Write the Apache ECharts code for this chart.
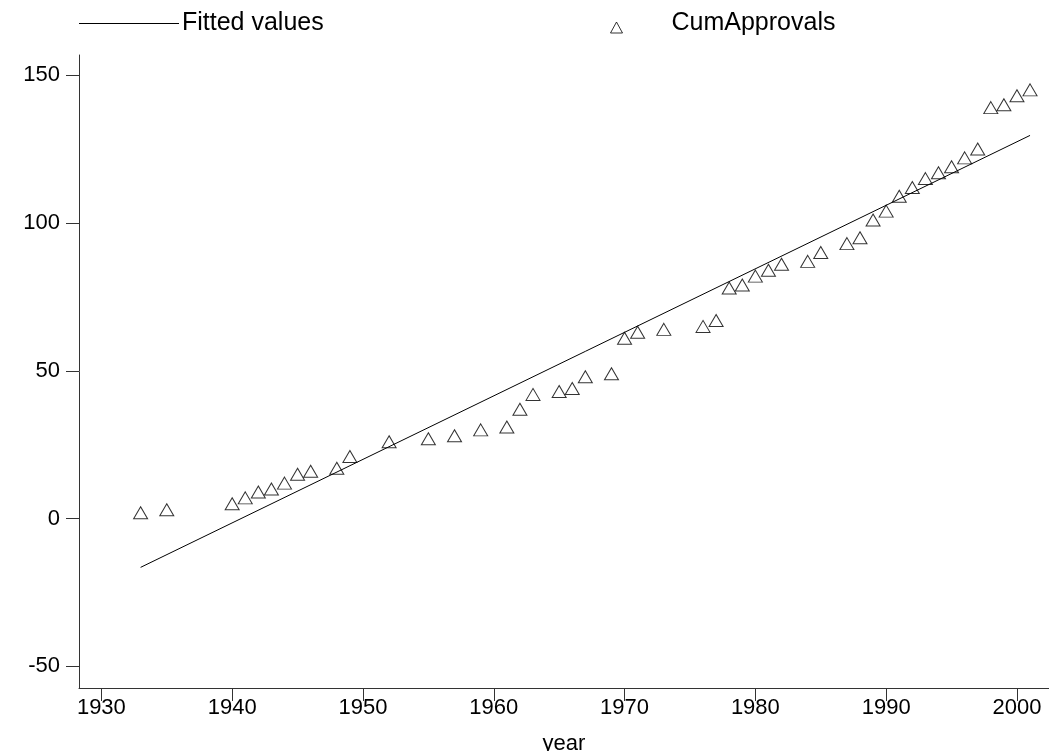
<!DOCTYPE html>
<html><head><meta charset="utf-8">
<script src="https://cdn.jsdelivr.net/npm/echarts@6/dist/echarts.min.js"></script>
<style>html,body{margin:0;padding:0;background:#fff}#c{width:1049px;height:751px}</style>
</head><body><div id="c"></div>
<script>
const years = [1933,1935,1940,1941,1942,1943,1944,1945,1946,1948,1949,1952,1955,1957,1959,1961,1962,1963,1965,1966,1967,1969,1970,1971,1973,1976,1977,1978,1979,1980,1981,1982,1984,1985,1987,1988,1989,1990,1991,1992,1993,1994,1995,1996,1997,1998,1999,2000,2001];
const cumApprovals = [2,3,5,7,9,10,12,15,16,17,21,26,27,28,30,31,37,42,43,44,48,49,61,63,64,65,67,78,79,82,84,86,87,90,93,95,101,104,109,112,115,117,119,122,125,139,140,143,145];
const fitYears = [1933, 2001];
const fitValues = [-16.5, 129.6];
const xTicks = [1930,1940,1950,1960,1970,1980,1990,2000];
const yTicks = [-50,0,50,100,150];

const FONT = '"Liberation Sans", Arial, Helvetica, sans-serif';
const chart = echarts.init(document.getElementById('c'), null, {renderer: 'canvas'});
const scatterData = years.map((y, i) => [y, cumApprovals[i]]);
const fitData = fitYears.map((y, i) => [y, fitValues[i]]);

chart.setOption({
  animation: false,
  backgroundColor: '#fff',
  textStyle: {fontFamily: FONT, color: '#000'},
  legend: [
    {data: [{name: 'Fitted values', icon: 'rect'}], left: 79, top: 11, padding: 0, itemWidth: 100, itemHeight: 1, itemGap: 0,
     itemStyle: {color: '#000', borderWidth: 0},
     textStyle: {fontFamily: FONT, fontSize: 25, color: '#000', padding: [0, 0, 0, -2]}},
    {data: [{name: 'CumApprovals', icon: 'path://M0,0 M6,8 L12,19 L0,19 Z'}], left: 610, top: 11, padding: 0,
     itemWidth: 12, itemHeight: 19, itemGap: 0,
     itemStyle: {color: 'rgba(0,0,0,0)', borderColor: '#000', borderWidth: 1},
     textStyle: {fontFamily: FONT, fontSize: 25, color: '#000', padding: [0, 0, 0, 44]}}
  ],
  grid: {left: 79, right: 0, top: 55, bottom: 63, containLabel: false, outerBoundsMode: 'none'},
  xAxis: {
    type: 'value', min: 1928.29, max: 2002.45,
    name: 'year', nameLocation: 'middle', nameGap: 45,
    nameTextStyle: {fontFamily: FONT, fontSize: 22, color: '#000'},
    axisLine: {show: true, onZero: false, lineStyle: {color: '#333', width: 1}},
    axisTick: {show: true, length: 13, lineStyle: {color: '#333'}, customValues: xTicks},
    axisLabel: {margin: 9, fontFamily: FONT, fontSize: 22, color: '#000', customValues: xTicks,
                formatter: v => String(v)},
    splitLine: {show: false}
  },
  yAxis: {
    type: 'value', min: -57.3, max: 156.8,
    axisLine: {show: true, onZero: false, lineStyle: {color: '#333', width: 1}},
    axisTick: {show: true, length: 13, lineStyle: {color: '#333'}, customValues: yTicks},
    axisLabel: {margin: 19, fontFamily: FONT, fontSize: 22, color: '#000', customValues: yTicks,
                formatter: v => String(v)},
    splitLine: {show: false}
  },
  series: [
    {name: 'Fitted values', type: 'line', data: fitData, symbol: 'none', showSymbol: false,
     lineStyle: {color: '#000', width: 1}, itemStyle: {color: '#000'}, z: 2},
    {name: 'CumApprovals', type: 'scatter', data: scatterData, symbol: 'triangle', symbolSize: [14, 12],
     itemStyle: {color: 'rgba(0,0,0,0)', borderColor: '#000', borderWidth: 1}, z: 3}
  ]
});
</script>
</body></html>
